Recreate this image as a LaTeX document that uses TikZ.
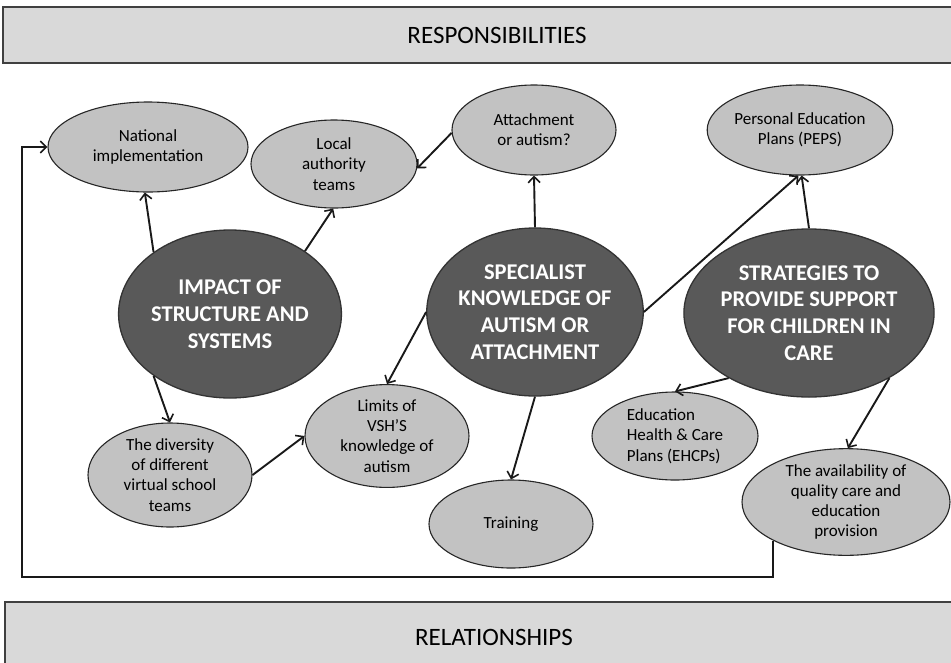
\documentclass[tikz,border=0pt]{standalone}
\usepackage{fontspec}
\setmainfont{Carlito}
\usetikzlibrary{shapes.geometric,arrows.meta}
\definecolor{hdrfill}{HTML}{D9D9D9}
\definecolor{hdrline}{HTML}{404040}
\definecolor{bigfill}{HTML}{595959}
\definecolor{smallfill}{HTML}{C2C2C2}
\tikzset{
  header/.style={draw=hdrline,line width=1.8pt,fill=hdrfill,inner sep=0pt,
    font=\fontsize{25}{30}\selectfont,text=black},
  big/.style={ellipse,draw=black!80,line width=1.3pt,fill=bigfill,inner sep=0pt,
    minimum width=210pt,minimum height=168pt,align=center,text=white,
    font=\bfseries\fontsize{22.5}{26.7}\selectfont},
  small/.style={ellipse,draw=black!85,line width=1.1pt,fill=smallfill,inner sep=0pt,
    minimum width=164pt,minimum height=88pt,align=center,text=black,
    font=\fontsize{17}{20.3}\selectfont},
  arr/.style={line width=1.9pt,draw=black!90,-{Straight Barb[length=6pt,width=12pt,line width=1.6pt]}},
}
\begin{document}
\begin{tikzpicture}[x=1pt,y=-1pt]
\useasboundingbox[fill=white] (0,0) rectangle (951,662);
% headers
\node[header,minimum width=988pt,minimum height=56pt] (resp) at (497,35) {RESPONSIBILITIES};
\node[header,minimum width=978pt,minimum height=70pt] (rel) at (494,637) {RELATIONSHIPS};
% small ellipses
\node[small,minimum width=200pt,minimum height=90pt] (nat) at (148,147) {National\\implementation};
\node[small,minimum width=166pt] (loc) at (334,164) {Local\\authority\\teams};
\node[small,minimum width=164pt,minimum height=90pt] (att) at (534,130) {Attachment\\or autism?};
\node[small,minimum width=164pt,minimum height=90pt] (peps) at (800,130) {Personal Education\\Plans (PEPS)};
\node[small,minimum height=104pt] (div) at (170,475) {The diversity\\of different\\virtual school\\teams};
\node[small] (lim) at (387,436) {Limits of\\VSH'S\\knowledge of\\autism};
\node[small,minimum width=166pt,align=left] (ehc) at (675,436) {Education\\Health \& Care\\Plans (EHCPs)};
\node[small] (train) at (511,524) {Training};
\node[small,minimum width=208pt,minimum height=100pt] (avail) at (846,502) {The availability of\\quality care and\\education\\provision};
% big ellipses
\node[big] (imp) at (230,314) {IMPACT OF\\STRUCTURE AND\\SYSTEMS};
\node[big] (spec) at (535,312) {SPECIALIST\\KNOWLEDGE OF\\AUTISM OR\\ATTACHMENT};
\node[big,minimum width=212pt] (strat) at (809,313) {STRATEGIES TO\\PROVIDE SUPPORT\\FOR CHILDREN IN\\CARE};
% connectors
\draw[arr] (imp.141) -- (nat.266);
\draw[arr] (imp.40) -- (loc.269);
\draw[arr] (att.182) -- (loc.357);
\draw[arr] (spec.north) -- (att.south);
\draw[arr] (spec.east) -- (peps.268);
\draw[arr] (strat.north) -- (peps.272);
\draw[arr] (imp.219) -- (div.north);
\draw[arr] (div.east) -- (lim.west);
\draw[arr] (spec.west) -- (lim.north);
\draw[arr] (spec.south) -- (train.north);
\draw[arr] (strat.219) -- (ehc.north);
\draw[arr] (strat.321) -- (avail.88);
\coordinate (fbcorner) at (22,577);
\draw[arr] (avail.208) |- (fbcorner) |- (nat.west);
\end{tikzpicture}
\end{document}
